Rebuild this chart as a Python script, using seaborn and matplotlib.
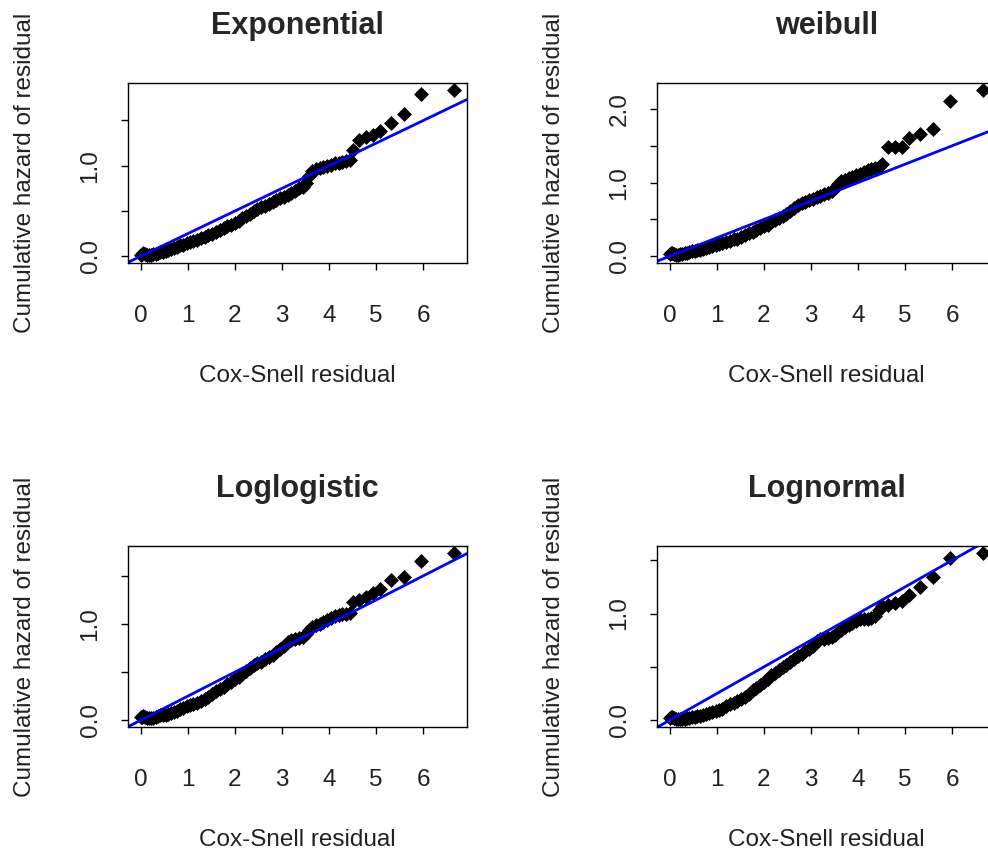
import numpy as np
import pandas as pd
import seaborn as sns
import matplotlib
matplotlib.use("Agg")
import matplotlib.pyplot as plt
from matplotlib.ticker import MultipleLocator, FuncFormatter

# Cox-Snell residuals (shared x) and cumulative hazard per fitted model
residual = [0.00, 0.03, 0.06, 0.10, 0.14, 0.18, 0.22, 0.27, 0.32, 0.37,
            0.42, 0.47, 0.53, 0.59, 0.65, 0.71, 0.77, 0.84, 0.91, 0.98,
            1.05, 1.12, 1.20, 1.28, 1.36, 1.44, 1.52, 1.60, 1.68, 1.76,
            1.84, 1.92, 2.00, 2.08, 2.16, 2.24, 2.32, 2.40, 2.48, 2.56,
            2.64, 2.72, 2.80, 2.88, 2.96, 3.04, 3.12, 3.20, 3.28, 3.36,
            3.44, 3.52, 3.58, 3.64, 3.72, 3.80, 3.88, 3.96, 4.04, 4.12,
            4.20, 4.28, 4.36, 4.44, 4.50, 4.64, 4.79, 4.93, 5.08, 5.32,
            5.60, 5.96, 6.66]

haz_exponential = [0.02, 0.03, 0.04, 0.03, 0.02, 0.02, 0.02, 0.03, 0.03, 0.04,
                   0.05, 0.05, 0.06, 0.07, 0.08, 0.09, 0.10, 0.12, 0.13, 0.15,
                   0.16, 0.17, 0.18, 0.20, 0.21, 0.23, 0.25, 0.27, 0.29, 0.31,
                   0.33, 0.35, 0.37, 0.39, 0.42, 0.45, 0.47, 0.50, 0.52, 0.54,
                   0.56, 0.58, 0.60, 0.62, 0.64, 0.66, 0.68, 0.70, 0.72, 0.75,
                   0.77, 0.81, 0.89, 0.94, 0.96, 0.98, 0.99, 1.00, 1.01, 1.03,
                   1.03, 1.04, 1.05, 1.06, 1.17, 1.28, 1.32, 1.34, 1.38, 1.47,
                   1.57, 1.79, 1.84]

haz_weibull = [0.03, 0.04, 0.04, 0.03, 0.02, 0.02, 0.03, 0.03, 0.04, 0.05,
               0.06, 0.07, 0.07, 0.08, 0.09, 0.10, 0.11, 0.13, 0.14, 0.16,
               0.17, 0.18, 0.20, 0.21, 0.23, 0.24, 0.26, 0.29, 0.31, 0.335,
               0.36, 0.39, 0.41, 0.43, 0.46, 0.49, 0.52, 0.55, 0.58, 0.62,
               0.65, 0.69, 0.72, 0.74, 0.76, 0.78, 0.80, 0.82, 0.84, 0.86,
               0.88, 0.92, 0.98, 1.02, 1.04, 1.06, 1.07, 1.10, 1.12, 1.15,
               1.17, 1.18, 1.20, 1.21, 1.25, 1.48, 1.48, 1.48, 1.60, 1.66,
               1.73, 2.11, 2.26]

haz_loglogistic = [0.03, 0.03, 0.04, 0.03, 0.02, 0.02, 0.02, 0.025, 0.03, 0.04,
                   0.05, 0.05, 0.06, 0.07, 0.08, 0.09, 0.10, 0.12, 0.13, 0.15,
                   0.16, 0.17, 0.18, 0.20, 0.22, 0.24, 0.27, 0.30, 0.33, 0.35,
                   0.38, 0.40, 0.43, 0.45, 0.48, 0.51, 0.54, 0.57, 0.59, 0.61,
                   0.64, 0.66, 0.68, 0.71, 0.74, 0.77, 0.81, 0.83, 0.84, 0.85,
                   0.87, 0.90, 0.94, 0.97, 0.99, 1.00, 1.02, 1.04, 1.06, 1.08,
                   1.09, 1.10, 1.10, 1.11, 1.23, 1.25, 1.28, 1.32, 1.36, 1.46,
                   1.49, 1.65, 1.74]

haz_lognormal = [0.02, 0.03, 0.03, 0.02, 0.01, 0.01, 0.01, 0.01, 0.01, 0.02,
                 0.02, 0.03, 0.03, 0.04, 0.04, 0.05, 0.06, 0.07, 0.08, 0.09,
                 0.10, 0.11, 0.13, 0.15, 0.16, 0.18, 0.20, 0.22, 0.25, 0.28,
                 0.30, 0.33, 0.36, 0.39, 0.42, 0.44, 0.47, 0.50, 0.52, 0.55,
                 0.57, 0.60, 0.62, 0.65, 0.67, 0.70, 0.74, 0.76, 0.76, 0.77,
                 0.78, 0.80, 0.83, 0.85, 0.87, 0.89, 0.91, 0.93, 0.95, 0.95,
                 0.95, 0.96, 0.98, 1.03, 1.07, 1.08, 1.10, 1.12, 1.17, 1.25,
                 1.34, 1.52, 1.57]

titles = ["Exponential", "weibull", "Loglogistic", "Lognormal"]
hazards = [haz_exponential, haz_weibull, haz_loglogistic, haz_lognormal]
ref_slope = 0.25  # reference line through the origin

sns.set_theme(style="white")
plt.rcParams['font.family'] = ['Liberation Sans', 'DejaVu Sans']

W, H = 988, 850
fig = plt.figure(figsize=(W / 100, H / 100), dpi=100)

# axes boxes in pixels: (left, top, width, height)
boxes = [(128, 83, 339, 180), (657, 83, 339, 180),
         (128, 546, 339, 181), (657, 546, 339, 181)]


def half_label(v, pos):
    return f"{v:.1f}" if abs(v - round(v)) < 1e-9 else ""


for (l, t, w, h), title, haz in zip(boxes, titles, hazards):
    ax = fig.add_axes([l / W, 1 - (t + h) / H, w / W, h / H])
    df = pd.DataFrame({"residual": residual, "hazard": haz})
    sns.scatterplot(data=df, x="residual", y="hazard", ax=ax, marker="D",
                    s=58, color="black", linewidth=0)
    ax.margins(0.04)
    ax.axline((0, 0), slope=ref_slope, color="#0000FF", linewidth=2)

    ax.set_xticks(range(0, 7))
    ax.yaxis.set_major_locator(MultipleLocator(0.5))
    ax.yaxis.set_major_formatter(FuncFormatter(half_label))
    ax.tick_params(axis="both", direction="out", length=5, width=1,
                   color="black", labelsize=17.5, labelcolor="#222222",
                   left=True, bottom=True)
    ax.tick_params(axis="x", pad=25)
    ax.tick_params(axis="y", pad=14)
    for lab in ax.get_yticklabels():
        lab.set_rotation(90)
        lab.set_va("center")
    for sp in ax.spines.values():
        sp.set_color("black")
        sp.set_linewidth(1)

    ax.set_title(title, fontsize=22, fontweight="bold", pad=35)
    ax.set_xlabel("Cox-Snell residual", fontsize=17.5, color="#222222")
    ax.set_ylabel("Cumulative hazard of residual", fontsize=17.5, color="#222222")
    ax.xaxis.set_label_coords(0.5, -102 / h)
    ax.yaxis.set_label_coords(-92 / w, 0.5)

fig.savefig("out.png", dpi=100, facecolor="white")
